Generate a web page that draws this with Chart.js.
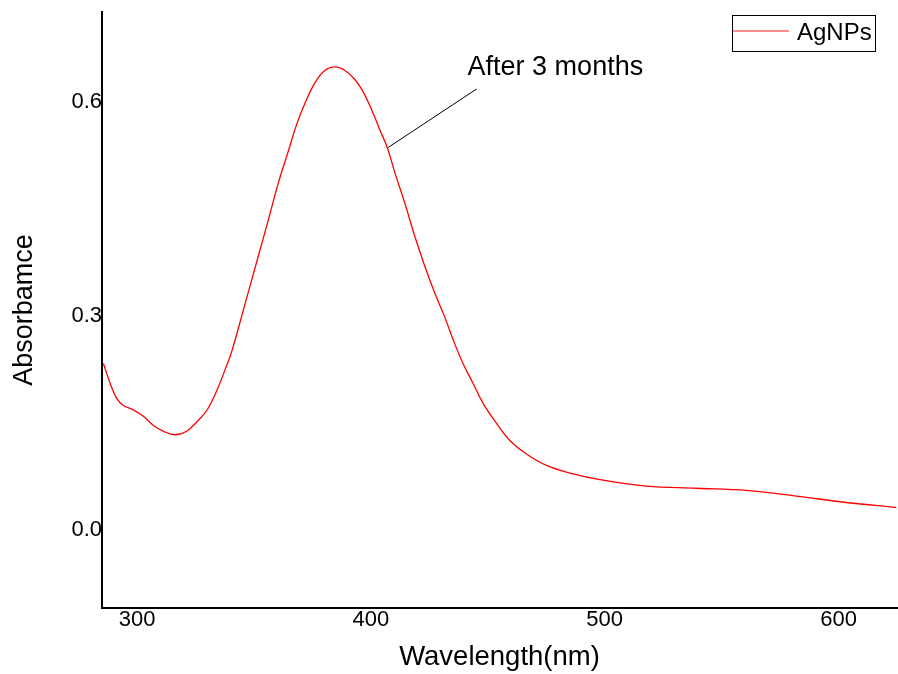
<!DOCTYPE html>
<html>
<head>
<meta charset="utf-8">
<script src="https://cdn.jsdelivr.net/npm/chart.js@4"></script>
<style>
  html, body { margin: 0; padding: 0; background: #fff; }
  #wrap { width: 898px; height: 674px; }
</style>
</head>
<body>
<div id="wrap"><canvas id="chartSpektrum" width="898" height="674"></canvas></div>
<script>
// UV-Vis spectrum of AgNPs
const wavelength = [
  285.6, 288.5, 291.3, 294.1, 298.4, 302.7, 307.0, 311.2, 316.2, 321.2,
  325.5, 329.8, 334.1, 337.6, 340.5, 346.2, 351.8, 356.1, 360.4, 364.7,
  368.2, 371.8, 376.1, 380.3, 384.6, 388.9, 393.2, 396.7, 400.3, 403.8,
  407.1, 410.3, 414.5, 418.8, 423.1, 427.4, 431.6, 435.2, 439.4, 443.7,
  448.0, 453.7, 459.4, 466.5, 475.1, 486.5, 497.9, 517.8, 539.2, 560.6,
  581.9, 603.3, 624.7
];
const absorbance = [
  0.233, 0.205, 0.184, 0.174, 0.168, 0.159, 0.146, 0.138, 0.133, 0.138,
  0.151, 0.167, 0.195, 0.224, 0.250, 0.317, 0.383, 0.434, 0.486, 0.531,
  0.568, 0.598, 0.627, 0.644, 0.649, 0.644, 0.631, 0.614, 0.589, 0.561,
  0.535, 0.500, 0.458, 0.411, 0.369, 0.331, 0.298, 0.266, 0.233, 0.205,
  0.177, 0.149, 0.125, 0.106, 0.090, 0.078, 0.070, 0.061, 0.058, 0.055,
  0.047, 0.038, 0.031
];
const xTicks = [300, 400, 500, 600];
const yTicks = [0.0, 0.3, 0.6];

// keterangan kurva: garis penunjuk dari label ke kurva
const catatanTeks = "After 3 months";
const catatanDari = { x: 445.2, y: 0.618 };
const catatanKe = { x: 407.4, y: 0.536 };

const FONT = "'Liberation Sans', Arial, sans-serif";

const titikData = wavelength.map((x, i) => ({ x, y: absorbance[i] }));

// plugin: label "After 3 months" + garis penunjuk
const pluginCatatan = {
  id: "catatan",
  afterDatasetsDraw(chart) {
    const { ctx, scales: { x, y } } = chart;
    ctx.save();
    ctx.strokeStyle = "#000";
    ctx.lineWidth = 1;
    ctx.beginPath();
    ctx.moveTo(x.getPixelForValue(catatanDari.x), y.getPixelForValue(catatanDari.y));
    ctx.lineTo(x.getPixelForValue(catatanKe.x), y.getPixelForValue(catatanKe.y));
    ctx.stroke();
    ctx.fillStyle = "#000";
    ctx.font = "27px " + FONT;
    ctx.textAlign = "left";
    ctx.textBaseline = "middle";
    ctx.fillText(catatanTeks, x.getPixelForValue(catatanDari.x) - 9, 68);
    ctx.restore();
  }
};

// plugin: kotak legenda di pojok kanan atas
const pluginLegenda = {
  id: "legendaKotak",
  afterDraw(chart) {
    const { ctx } = chart;
    const ds = chart.data.datasets[0];
    ctx.save();
    ctx.strokeStyle = "#000";
    ctx.lineWidth = 1;
    ctx.strokeRect(732.5, 15.5, 143, 36);
    ctx.strokeStyle = ds.borderColor;
    ctx.globalAlpha = 0.6;
    ctx.lineWidth = 1.5;
    ctx.beginPath();
    ctx.moveTo(733, 31);
    ctx.lineTo(789, 31);
    ctx.stroke();
    ctx.globalAlpha = 1;
    ctx.fillStyle = "#000";
    ctx.font = "24px " + FONT;
    ctx.textBaseline = "middle";
    ctx.fillText(ds.label, 797, 33);
    ctx.restore();
  }
};

const ctx = document.getElementById("chartSpektrum").getContext("2d");
new Chart(ctx, {
  type: "scatter",
  data: {
    datasets: [{
      label: "AgNPs",
      data: titikData,
      showLine: true,
      borderColor: "#ff0000",
      borderWidth: 1.3,
      pointRadius: 0,
      tension: 0.4,
    }],
  },
  options: {
    responsive: false,
    animation: false,
    devicePixelRatio: 1,
    layout: { padding: { top: 12, right: 1, left: 0, bottom: 0 } },
    plugins: { legend: { display: false }, tooltip: { enabled: false } },
    scales: {
      x: {
        type: "linear",
        min: 285,
        max: 625,
        afterBuildTicks: (s) => { s.ticks = xTicks.map((v) => ({ value: v })); },
        afterFit: (s) => { s.height = 66; },
        grid: { display: false },
        border: { display: true, color: "#000", width: 2 },
        ticks: { color: "#000", font: { family: FONT, size: 22 }, padding: -9, maxRotation: 0 },
        title: {
          display: true,
          text: "Wavelength(nm)",
          color: "#000",
          font: { family: FONT, size: 27.5 },
          padding: { top: 4, bottom: 0 },
        },
      },
      y: {
        min: -0.11,
        max: 0.726,
        afterBuildTicks: (s) => { s.ticks = yTicks.map((v) => ({ value: v })); },
        afterFit: (s) => { s.width = 102; },
        grid: { display: false },
        border: { display: true, color: "#000", width: 2 },
        ticks: {
          color: "#000",
          font: { family: FONT, size: 22 },
          padding: -8,
          callback: (v) => v.toFixed(1),
        },
        title: {
          display: true,
          text: "Absorbamce",
          color: "#000",
          font: { family: FONT, size: 27 },
          padding: { top: 8, bottom: 0 },
        },
      },
    },
  },
  plugins: [pluginCatatan, pluginLegenda],
});
</script>
</body>
</html>
